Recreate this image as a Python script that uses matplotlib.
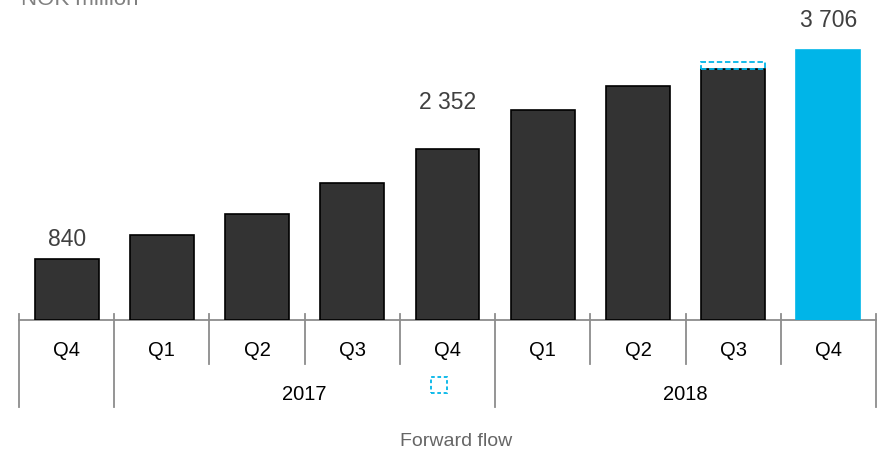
import matplotlib.pyplot as plt
from matplotlib.patches import Rectangle

plt.rcParams['font.family'] = ['Liberation Sans', 'DejaVu Sans']

quarters = ['Q4', 'Q1', 'Q2', 'Q3', 'Q4', 'Q1', 'Q2', 'Q3', 'Q4']
years = ['', '2017', '2018']
year_spans = [(0, 1), (1, 5), (5, 9)]
values = [840, 1167, 1455, 1881, 2352, 2883, 3212, 3445, 3706]
bar_colors = ['#333333'] * 8 + ['#00b5e8']
shown_labels = {0: '840', 4: '2 352', 8: '3 706'}
dashed_top = 3540  # dashed outline above Q3 2018

cyan = '#00b5e8'
grey = '#8c8c8c'
label_gap = {0: 20, 4: 47, 8: 31}  # px between bar top and label centre

fig = plt.figure(figsize=(8.85, 4.56), dpi=100)
ax = fig.add_axes([19 / 885, 1 - 321 / 456, 857 / 885, 321 / 456])
ymax = 4409
ax.set_xlim(0, 9)
ax.set_ylim(0, ymax)
ax.axis('off')
px = ymax / 321.0  # data units per pixel

x = [i + 0.5 for i in range(len(values))]
ax.bar(x, values, width=0.67, color=bar_colors, edgecolor=['black'] * 8 + [cyan],
       linewidth=1.2, zorder=2)

for i, txt in shown_labels.items():
    ax.text(x[i], values[i] + label_gap[i] * px, txt, ha='center', va='center',
            fontsize=16.5, color='#404040', clip_on=False)

# dashed outline on Q3 2018
ax.add_patch(Rectangle((x[7] - 0.335, values[7]), 0.67, dashed_top - values[7],
                       fill=False, edgecolor=cyan, linestyle=(0, (3, 1.5)),
                       linewidth=1.3, zorder=3))

# category axis
ax.plot([0, 9], [0, 0], color=grey, lw=1.3, clip_on=False, zorder=1)
for b in range(10):
    bottom = -87 if b in (0, 1, 5, 9) else -44
    ax.plot([b, b], [6 * px, bottom * px], color=grey, lw=1.3, clip_on=False)
for i, q in enumerate(quarters):
    ax.text(x[i], -30 * px, q, ha='center', va='center', fontsize=14.5, color='black')
for (a, b), yr in zip(year_spans, years):
    ax.text((a + b) / 2, -73 * px, yr, ha='center', va='center', fontsize=14.5,
            color='black')

# small dashed legend square
ax.add_patch(Rectangle((4.33, -73 * px), 16 / 95.2, 16 * px, fill=False,
                       edgecolor=cyan, linestyle=(0, (2, 1.5)), linewidth=1.3,
                       clip_on=False))

fig.text(456 / 885, 1 - 442 / 456, 'Forward flow', ha='center', va='center',
         fontsize=14, color='#666666')
fig.text(21 / 885, 1 - 5 / 456, 'NOK million', ha='left', va='baseline',
         fontsize=16, color='#808080')

fig.savefig('out.png', dpi=100)
